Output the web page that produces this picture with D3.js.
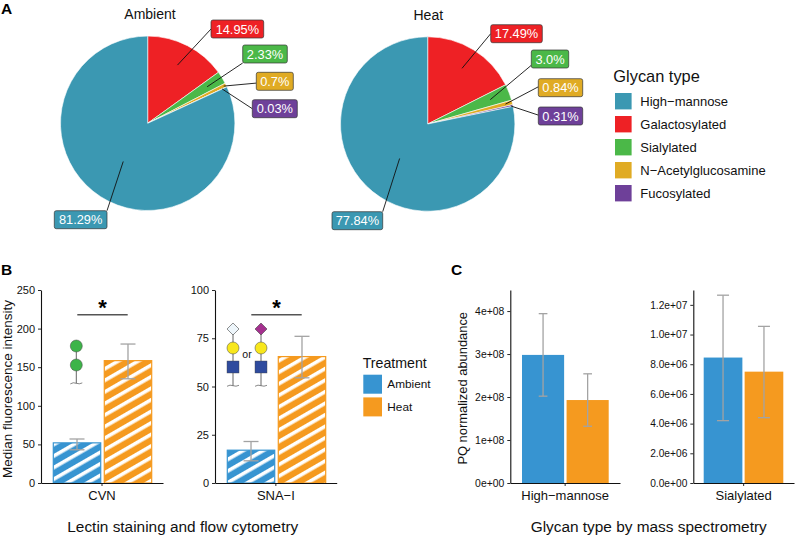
<!DOCTYPE html>
<html>
<head>
<meta charset="utf-8">
<script src="https://cdn.jsdelivr.net/npm/d3@7"></script>
<style>
  html, body { margin: 0; padding: 0; background: #fff; }
  svg { display: block; }
  text { font-family: "Liberation Sans", Arial, sans-serif; fill: #111; }
</style>
</head>
<body>
<div id="chart"></div>
<script>
// data
const glycanTypes = ["Galactosylated", "Sialylated", "N\u2212Acetylglucosamine", "Fucosylated", "High\u2212mannose"];
const legendOrder = ["High\u2212mannose", "Galactosylated", "Sialylated", "N\u2212Acetylglucosamine", "Fucosylated"];
const ambientShares = [14.95, 2.33, 0.7, 0.03, 81.29];
const heatShares = [17.49, 3.0, 0.84, 0.31, 77.84];
const ambientLabels = ["14.95%", "2.33%", "0.7%", "0.03%", "81.29%"];
const heatLabels = ["17.49%", "3.0%", "0.84%", "0.31%", "77.84%"];

const treatments = ["Ambient", "Heat"];
const cvnMeans = [52, 158.5];
const cvnLow = [43, 135];
const cvnHigh = [57, 180];
const snaMeans = [17, 65.5];
const snaLow = [11.5, 54.5];
const snaHigh = [21.5, 76];
const highMannoseMeans = [2.98e8, 1.93e8];
const highMannoseLow = [2.02e8, 1.32e8];
const highMannoseHigh = [3.94e8, 2.54e8];
const sialylatedMeans = [8.45e6, 7.5e6];
const sialylatedLow = [4.2e6, 4.4e6];
const sialylatedHigh = [12.65e6, 10.55e6];

const cvnTicks = [0, 50, 100, 150, 200, 250];
const snaTicks = [0, 25, 50, 75, 100];
const highMannoseTicks = [0, 1e8, 2e8, 3e8, 4e8];
const highMannoseTickLabels = ["0e+00", "1e+08", "2e+08", "3e+08", "4e+08"];
const sialylatedTicks = [0, 2e6, 4e6, 6e6, 8e6, 1e7, 1.2e7];
const sialylatedTickLabels = ["0.0e+00", "2.0e+06", "4.0e+06", "6.0e+06", "8.0e+06", "1.0e+07", "1.2e+07"];

// formatting constants
const width = 796;
const height = 538;
const radius = 87.2;
const boxH = 18;
const yBottom = 483;
const yTop = 290;
const sliceColors = d3.scaleOrdinal().domain(glycanTypes)
    .range(["#ee2125", "#4bb848", "#e0ab24", "#6e4099", "#3b98b2"]);
const treatColors = d3.scaleOrdinal().domain(treatments).range(["#3794d1", "#f59a1f"]);
const errorColor = "#a3a3a3";

const svg = d3.select("#chart")
    .append("svg")
        .attr("width", width)
        .attr("height", height);

// striped fills for panel B
const defs = svg.append("defs");
treatments.forEach((t, i) => {
    const p = defs.append("pattern")
        .attr("id", "stripe" + i)
        .attr("patternUnits", "userSpaceOnUse")
        .attr("width", 10)
        .attr("height", 10)
        .attr("patternTransform", "rotate(-30)");
    p.append("rect").attr("width", 10).attr("height", 10).attr("fill", treatColors(t));
    p.append("rect").attr("width", 10).attr("height", 3.6).attr("fill", "#fff");
});

// panel letters
[["A", 1, 14], ["B", 1, 275], ["C", 451, 275]].forEach(d => {
    svg.append("text").attr("x", d[1]).attr("y", d[2])
        .attr("font-size", 15.5).attr("font-weight", "bold").style("fill", "#000").text(d[0]);
});

// pies: label box left, top, width relative to the pie centre, leader start as share of radius,
// and where on the box the leader ends
drawPie({
    title: "Ambient", cx: 147.7, cy: 123.3, titleX: 150, titleY: 19,
    shares: ambientShares, labels: ambientLabels,
    boxes: [[63.3, -103.3, 52.7], [95, -78.3, 44.6], [108.6, -51, 37], [104.6, -23.6, 45], [-93.4, 87.4, 52.7]],
    starts: [0.75, 0.8, 0.97, 0.94, 0.52],
    ends: [[0, 0.5], [0, 1], [0, 0.6], [0, 0.5], [1, 0]]
});
drawPie({
    title: "Heat", cx: 427.7, cy: 124, titleX: 428.3, titleY: 20,
    shares: heatShares, labels: heatLabels,
    boxes: [[63, -99.3, 51.6], [103.6, -74, 37.4], [110.6, -45.3, 44.4], [110.6, -17, 44.4], [-95.7, 87.7, 50.7]],
    starts: [0.75, 0.77, 0.92, 0.975, 0.51],
    ends: [[0, 0.5], [0, 0.85], [0, 0.45], [0, 0.45], [1, 0]]
});

function drawPie(o) {
    const g = svg.append("g").attr("transform", `translate(${o.cx}, ${o.cy})`);
    const pie = d3.pie().sort(null)(o.shares);
    const arc = d3.arc().innerRadius(0).outerRadius(radius);

    g.selectAll("path")
        .data(pie)
        .join("path")
            .attr("d", arc)
            .attr("fill", (d, i) => sliceColors(glycanTypes[i]))
            .attr("stroke", "#fff")
            .attr("stroke-width", 0.6);

    pie.forEach((d, i) => {
        const box = o.boxes[i];
        const r = radius * o.starts[i];
        const start = d3.arc().innerRadius(r).outerRadius(r).centroid(d);
        g.append("line")
            .attr("x1", start[0])
            .attr("y1", start[1])
            .attr("x2", box[0] + o.ends[i][0] * box[2])
            .attr("y2", box[1] + o.ends[i][1] * boxH)
            .attr("stroke", "#111")
            .attr("stroke-width", 0.9);
        g.append("rect")
            .attr("x", box[0])
            .attr("y", box[1])
            .attr("width", box[2])
            .attr("height", boxH)
            .attr("rx", 2)
            .attr("fill", sliceColors(glycanTypes[i]))
            .attr("stroke", "#333")
            .attr("stroke-width", 0.7);
        g.append("text")
            .attr("x", box[0] + box[2] / 2)
            .attr("y", box[1] + 13.6)
            .attr("text-anchor", "middle")
            .attr("font-size", 12.8)
            .style("fill", "#fff")
            .text(o.labels[i]);
    });

    svg.append("text")
        .attr("x", o.titleX)
        .attr("y", o.titleY)
        .attr("text-anchor", "middle")
        .attr("font-size", 14)
        .text(o.title);
}

// glycan type legend
svg.append("text").attr("x", 613.3).attr("y", 81.7).attr("font-size", 16.4).text("Glycan type");
legendOrder.forEach((name, i) => {
    svg.append("rect")
        .attr("x", 615).attr("y", 93 + i * 23)
        .attr("width", 16.6).attr("height", 16.4)
        .attr("fill", sliceColors(name));
    svg.append("text")
        .attr("x", 640.3).attr("y", 105.7 + i * 23)
        .attr("font-size", 13)
        .text(name);
});

// bar panels
drawBars({
    axisX: 41, axisEnd: 163, barStart: 53.3, barEnd: 151.7, padding: 0.07, category: "CVN",
    max: 250, ticks: cvnTicks, tickLabels: cvnTicks, tickSize: 11,
    means: cvnMeans, low: cvnLow, high: cvnHigh, cap: 15, hatch: true
});
drawBars({
    axisX: 215, axisEnd: 336.7, barStart: 227.3, barEnd: 325.7, padding: 0.07, category: "SNA\u2212I",
    max: 100, ticks: snaTicks, tickLabels: snaTicks, tickSize: 11,
    means: snaMeans, low: snaLow, high: snaHigh, cap: 15, hatch: true
});
drawBars({
    axisX: 510.3, axisEnd: 620, barStart: 522, barEnd: 608.7, padding: 0.055, category: "High\u2212mannose",
    max: 4.49e8, ticks: highMannoseTicks, tickLabels: highMannoseTickLabels, tickSize: 10.4,
    means: highMannoseMeans, low: highMannoseLow, high: highMannoseHigh, cap: 8.7, hatch: false
});
drawBars({
    axisX: 693.3, axisEnd: 794, barStart: 703.7, barEnd: 783.3, padding: 0.055, category: "Sialylated",
    max: 1.3e7, ticks: sialylatedTicks, tickLabels: sialylatedTickLabels, tickSize: 10.2,
    means: sialylatedMeans, low: sialylatedLow, high: sialylatedHigh, cap: 12, hatch: false
});

function drawBars(o) {
    const x = d3.scaleBand().domain(treatments).range([o.barStart, o.barEnd]).paddingInner(o.padding);
    const xCat = d3.scaleBand().domain([o.category]).range([o.axisX, o.axisEnd]);
    const y = d3.scaleLinear().domain([0, o.max]).range([yBottom, yTop]);

    svg.selectAll(null)
        .data(treatments)
        .join("rect")
            .attr("x", d => x(d))
            .attr("y", (d, i) => y(o.means[i]))
            .attr("width", x.bandwidth())
            .attr("height", (d, i) => yBottom - y(o.means[i]))
            .attr("fill", (d, i) => o.hatch ? `url(#stripe${i})` : treatColors(d))
            .attr("stroke", d => o.hatch ? treatColors(d) : "none")
            .attr("stroke-width", 1.2);

    // error bars
    treatments.forEach((t, i) => {
        const cx = x(t) + x.bandwidth() / 2;
        const g = svg.append("g").attr("stroke", errorColor).attr("stroke-width", 1.3);
        g.append("line").attr("x1", cx).attr("x2", cx).attr("y1", y(o.low[i])).attr("y2", y(o.high[i]));
        [o.low[i], o.high[i]].forEach(v => {
            g.append("line")
                .attr("x1", cx - o.cap / 2).attr("x2", cx + o.cap / 2)
                .attr("y1", y(v)).attr("y2", y(v));
        });
    });

    const yAxis = svg.append("g")
        .attr("transform", `translate(${o.axisX}, 0)`)
        .call(d3.axisLeft(y).tickValues(o.ticks).tickSize(3).tickSizeOuter(0)
            .tickFormat((d, i) => o.tickLabels[i]));
    yAxis.selectAll("text").attr("font-size", o.tickSize).attr("font-family", null);

    const xAxis = svg.append("g")
        .attr("transform", `translate(0, ${yBottom})`)
        .call(d3.axisBottom(xCat).tickSize(3).tickSizeOuter(0));
    xAxis.selectAll("text").attr("font-size", 13).attr("font-family", null).attr("dy", "0.88em");

    [yAxis, xAxis].forEach(a => {
        a.select(".domain").attr("stroke", "#111").attr("stroke-width", 1.1);
        a.selectAll(".tick line").attr("stroke", "#111").attr("stroke-width", 0.9);
    });
}

// significance bars
[[77.3, 127.7, 102.5], [251.3, 301.7, 276.5]].forEach(d => {
    svg.append("line")
        .attr("x1", d[0]).attr("x2", d[1]).attr("y1", 314.7).attr("y2", 314.7)
        .attr("stroke", "#555").attr("stroke-width", 1.4);
    svg.append("text")
        .attr("x", d[2]).attr("y", 315)
        .attr("text-anchor", "middle")
        .attr("font-size", 22)
        .attr("font-weight", "bold")
        .style("fill", "#000")
        .text("*");
});

// glycan structure icons
function drawStem(cx, top, bottom) {
    svg.append("line").attr("x1", cx).attr("x2", cx).attr("y1", top).attr("y2", bottom)
        .attr("stroke", "#555").attr("stroke-width", 0.9);
    svg.append("path")
        .attr("d", `M${cx - 6},${bottom + 0.6} q3,-2 6,-0.6 q3,1.2 6,-0.4`)
        .attr("fill", "none").attr("stroke", "#555").attr("stroke-width", 0.7);
}
function drawCircle(cx, cy, fill) {
    svg.append("circle").attr("cx", cx).attr("cy", cy).attr("r", 6)
        .attr("fill", fill).attr("stroke", "#444").attr("stroke-width", 0.5);
}
function drawSquare(cx, cy) {
    svg.append("rect").attr("x", cx - 6).attr("y", cy - 6).attr("width", 12).attr("height", 12)
        .attr("fill", "#2f4b9e").attr("stroke", "#444").attr("stroke-width", 0.4);
}
function drawDiamond(cx, cy, fill) {
    svg.append("path").attr("d", `M${cx},${cy - 6} L${cx + 6},${cy} L${cx},${cy + 6} L${cx - 6},${cy} Z`)
        .attr("fill", fill).attr("stroke", "#444").attr("stroke-width", 0.6);
}
drawStem(76.3, 346, 383.3);
drawCircle(76.3, 346, "#3db449");
drawCircle(76.3, 365, "#3db449");
[[233, "#eef6fb"], [261, "#a5308f"]].forEach(d => {
    drawStem(d[0], 329, 385.7);
    drawDiamond(d[0], 329, d[1]);
    drawCircle(d[0], 348, "#f8e71c");
    drawSquare(d[0], 367);
});
svg.append("text").attr("x", 247).attr("y", 358).attr("text-anchor", "middle").attr("font-size", 10.5).text("or");

// treatment legend
svg.append("text").attr("x", 362.7).attr("y", 367.7).attr("font-size", 14.2).text("Treatment");
treatments.forEach((t, i) => {
    svg.append("rect")
        .attr("x", 363.3).attr("y", 374.7 + i * 22.7)
        .attr("width", 18.7).attr("height", 19)
        .attr("fill", treatColors(t));
    svg.append("text")
        .attr("x", 387.3).attr("y", 388 + i * 23)
        .attr("font-size", 11.8)
        .text(t);
});

// axis and section titles
[["Median fluorescence intensity", 12, 389, 13.5], ["PQ normalized abundance", 466.7, 388.3, 12.9]].forEach(d => {
    svg.append("text")
        .attr("transform", `translate(${d[1]}, ${d[2]}) rotate(-90)`)
        .attr("text-anchor", "middle")
        .attr("font-size", d[3])
        .text(d[0]);
});
[["Lectin staining and flow cytometry", 182.8], ["Glycan type by mass spectrometry", 648.7]].forEach(d => {
    svg.append("text")
        .attr("x", d[1]).attr("y", 531.7)
        .attr("text-anchor", "middle")
        .attr("font-size", 15.4)
        .text(d[0]);
});
</script>
</body>
</html>
